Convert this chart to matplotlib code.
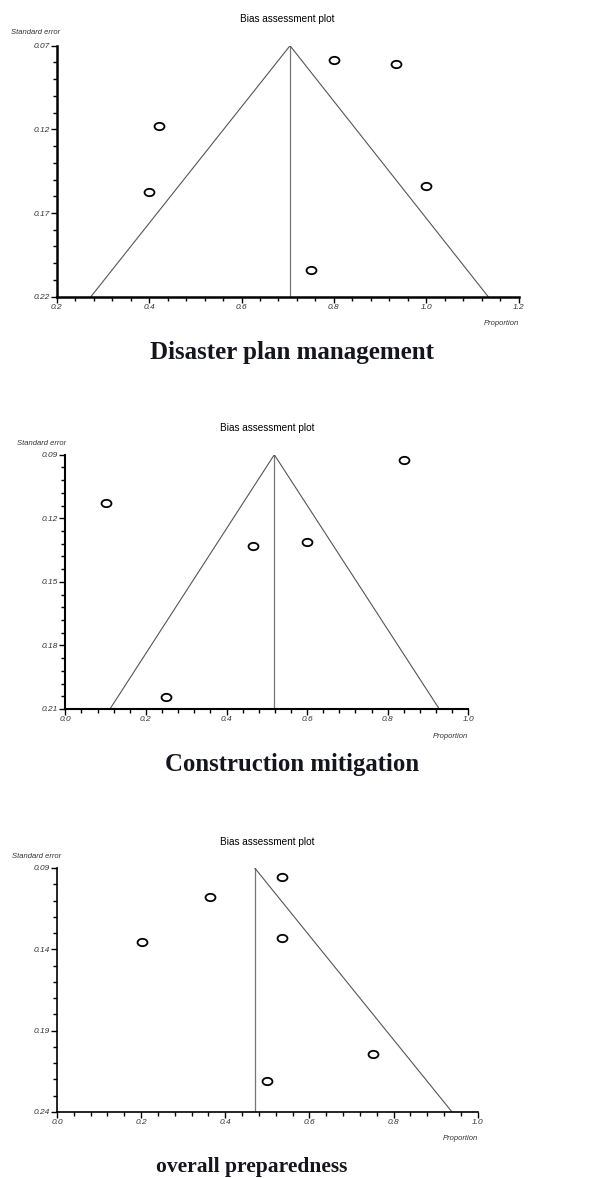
import matplotlib
matplotlib.use('Agg')
import matplotlib.pyplot as plt
from matplotlib.markers import MarkerStyle
from matplotlib.transforms import Affine2D
import numpy as np

W, H = 608, 1178

# panel 1: Disaster plan management
p1_prop = [0.800, 0.934, 0.4215, 0.400, 1.000, 0.750]
p1_se = [0.0788, 0.0812, 0.1180, 0.1572, 0.1539, 0.2043]
p1_pooled, p1_lo, p1_hi = 0.705, 0.274, 1.134

# panel 2: Construction mitigation
p2_prop = [0.841, 0.100, 0.4665, 0.600, 0.250]
p2_se = [0.0927, 0.1130, 0.1333, 0.1312, 0.2042]
p2_pooled, p2_lo, p2_hi = 0.5186, 0.1108, 0.928

# panel 3: overall preparedness
p3_prop = [0.534, 0.3637, 0.2013, 0.534, 0.7512, 0.500]
p3_se = [0.0953, 0.1076, 0.1355, 0.1330, 0.2041, 0.2207]
p3_pooled, p3_hi = 0.470, 0.939

panels = [
    dict(prop=p1_prop, se=p1_se, pooled=p1_pooled, lo=p1_lo, hi=p1_hi,
         xlim=(0.2, 1.2), xmajor=np.arange(0.2, 1.21, 0.2), xlabels=['0.2', '0.4', '0.6', '0.8', '1.0', '1.2'],
         ylim=(0.07, 0.22), ymajor=[0.07, 0.12, 0.17, 0.22], yminor=0.01,
         box=(56.7, 518.7, 45.7, 296.7), title=(287, 19), se_lab=(11, 33), prop_y=324,
         caption='Disaster plan management', cap=(292, 353), capsize=18, spw=1.8),
    dict(prop=p2_prop, se=p2_se, pooled=p2_pooled, lo=p2_lo, hi=p2_hi,
         xlim=(0.0, 1.0), xmajor=np.arange(0.0, 1.01, 0.2), xlabels=['0.0', '0.2', '0.4', '0.6', '0.8', '1.0'],
         ylim=(0.09, 0.21), ymajor=[0.09, 0.12, 0.15, 0.18, 0.21], yminor=0.006,
         box=(65.3, 468.3, 454.7, 709.0), title=(267, 428), se_lab=(17, 443), prop_y=737,
         caption='Construction mitigation', cap=(292, 765), capsize=17.8, spw=1.5),
    dict(prop=p3_prop, se=p3_se, pooled=p3_pooled, lo=None, hi=p3_hi,
         xlim=(0.0, 1.0), xmajor=np.arange(0.0, 1.01, 0.2), xlabels=['0.0', '0.2', '0.4', '0.6', '0.8', '1.0'],
         ylim=(0.09, 0.24), ymajor=[0.09, 0.14, 0.19, 0.24], yminor=0.01,
         box=(57.0, 477.7, 868.0, 1112.0), title=(267, 842), se_lab=(12, 856), prop_y=1138,
         caption='overall preparedness', cap=(252, 1167), capsize=15.5, spw=1.2),
]

fig = plt.figure(figsize=(W / 100, H / 100), dpi=100)
sans = ['Liberation Sans', 'DejaVu Sans']
ell = MarkerStyle('o', transform=Affine2D().scale(1.35, 1.0))

for p in panels:
    l, r, t, b = p['box']
    ax = fig.add_axes([l / W, 1 - b / H, (r - l) / W, (b - t) / H])
    ymin, ymax = p['ylim']
    # funnel lines
    ax.plot([p['pooled'], p['pooled']], [ymin, ymax], color='#777777', lw=0.9)
    if p['lo'] is not None:
        ax.plot([p['lo'], p['pooled']], [ymax, ymin], color='#555555', lw=0.8)
    ax.plot([p['pooled'], p['hi']], [ymin, ymax], color='#555555', lw=0.8)
    ax.scatter(p['prop'], p['se'], marker=ell, s=28, facecolors='white',
               edgecolors='black', linewidths=1.3, zorder=3)
    ax.set_xlim(p['xlim'])
    ax.set_ylim(ymax, ymin)
    for s in ['top', 'right']:
        ax.spines[s].set_visible(False)
    ax.spines['left'].set_linewidth(p['spw'])
    ax.spines['bottom'].set_linewidth(p['spw'])
    ax.set_xticks(p['xmajor'])
    ax.set_xticklabels(p['xlabels'], fontsize=6, fontstyle='italic', family=sans, color='#333333')
    ax.set_xticks(np.arange(p['xlim'][0], p['xlim'][1] + 1e-9, 0.04), minor=True)
    ax.set_yticks(p['ymajor'])
    ax.set_yticklabels(['%.2f' % v for v in p['ymajor']], fontsize=6, fontstyle='italic',
                       family=sans, color='#333333')
    ax.set_yticks(np.arange(ymin, ymax + 1e-9, p['yminor']), minor=True)
    ax.tick_params(axis='both', which='major', length=4, width=1.0, pad=1)
    ax.tick_params(axis='both', which='minor', length=3, width=1.0)
    ax.patch.set_alpha(0)

    fig.text(p['title'][0] / W, 1 - p['title'][1] / H, 'Bias assessment plot',
             ha='center', va='center', fontsize=7.2, family=sans)
    fig.text(p['se_lab'][0] / W, 1 - p['se_lab'][1] / H, 'Standard error',
             ha='left', va='center', fontsize=5.5, fontstyle='italic', family=sans, color='#333333')
    fig.text(r / W, 1 - p['prop_y'] / H, 'Proportion',
             ha='right', va='center', fontsize=5.5, fontstyle='italic', family=sans, color='#333333')
    fig.text(p['cap'][0] / W, 1 - p['cap'][1] / H, p['caption'],
             ha='center', va='center', fontsize=p['capsize'], fontweight='bold',
             family=['Liberation Serif', 'DejaVu Serif'], color='#15151f')

fig.savefig('out.png', dpi=100)
